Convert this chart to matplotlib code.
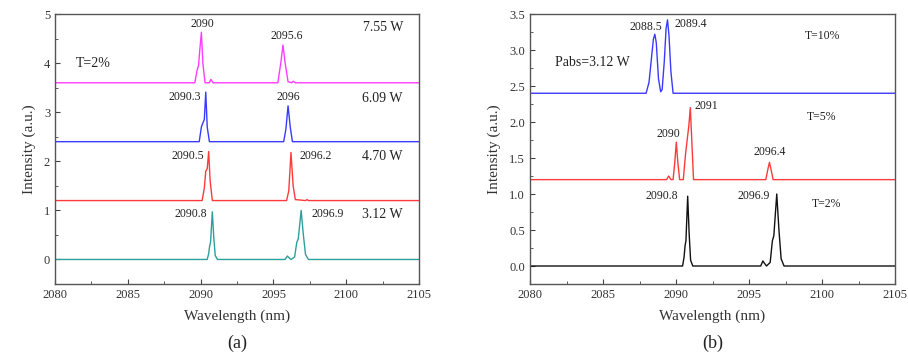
import numpy as np
import matplotlib.pyplot as plt
from matplotlib.ticker import MultipleLocator

plt.rcParams['font.family'] = ['Liberation Serif', 'DejaVu Serif']

# ---- panel (a): T=2%, different pump powers (knots) ----
p312_x = [2080, 2090.45, 2090.55, 2090.62, 2090.68, 2090.8, 2090.9, 2091.0, 2091.15,
          2095.8, 2095.95, 2096.05, 2096.2, 2096.45, 2096.6, 2096.7, 2096.9, 2097.05,
          2097.2, 2097.4, 2105]
p312_y = [0, 0, 0.12, 0.28, 0.35, 0.97, 0.45, 0.08, 0,
          0, 0.07, 0.04, 0, 0.05, 0.35, 0.42, 1.0, 0.5,
          0.1, 0, 0]

p470_x = [2080, 2090.1, 2090.25, 2090.35, 2090.45, 2090.55, 2090.65, 2090.8,
          2095.9, 2096.05, 2096.2, 2096.35, 2096.5, 2097.2, 2097.3, 2097.4, 2105]
p470_y = [1.2, 1.2, 1.45, 1.8, 1.85, 2.2, 1.6, 1.2,
          1.2, 1.4, 2.18, 1.5, 1.22, 1.2, 1.22, 1.2, 1.2]

p609_x = [2080, 2089.9, 2090.05, 2090.15, 2090.25, 2090.35, 2090.45, 2090.6,
          2095.7, 2095.85, 2096.0, 2096.15, 2096.3, 2105]
p609_y = [2.4, 2.4, 2.7, 2.78, 2.85, 3.41, 2.7, 2.4,
          2.4, 2.65, 3.13, 2.7, 2.4, 2.4]

p755_x = [2080, 2089.6, 2089.75, 2089.85, 2089.95, 2090.05, 2090.15, 2090.3,
          2090.6, 2090.7, 2090.85, 2095.3, 2095.5, 2095.65, 2095.8, 2096.0,
          2096.25, 2096.35, 2096.5, 2105]
p755_y = [3.6, 3.6, 3.85, 3.95, 4.3, 4.63, 4.0, 3.6,
          3.6, 3.67, 3.6, 3.6, 4.0, 4.37, 4.0, 3.62,
          3.6, 3.63, 3.6, 3.6]

# ---- panel (b): Pabs=3.12 W, different output couplers ----
t2_x = p312_x
t2_y = p312_y

t5_x = [2080, 2089.35, 2089.5, 2089.65, 2089.8, 2089.92, 2090.02, 2090.12, 2090.25,
        2090.5, 2090.65, 2090.78, 2090.88, 2090.98, 2091.08, 2091.2,
        2096.15, 2096.3, 2096.4, 2096.5, 2096.65, 2105]
t5_y = [1.2, 1.2, 1.25, 1.2, 1.2, 1.45, 1.72, 1.45, 1.2,
        1.2, 1.55, 1.78, 1.95, 2.2, 1.75, 1.2,
        1.2, 1.35, 1.44, 1.35, 1.2, 1.2]

t10_x = [2080, 2087.95, 2088.15, 2088.3, 2088.45, 2088.55, 2088.65, 2088.8, 2088.95,
         2089.05, 2089.2, 2089.32, 2089.42, 2089.52, 2089.65, 2089.8, 2105]
t10_y = [2.4, 2.4, 2.55, 2.85, 3.15, 3.22, 3.1, 2.6, 2.42,
         2.45, 2.85, 3.3, 3.42, 3.2, 2.7, 2.4, 2.4]

# annotations: (text, x, y)
labels_a = [("2090", 2090.1, 4.8), ("2095.6", 2095.9, 4.55), ("7.55 W", 2102.5, 4.73),
            ("T=2%", 2082.6, 4.0), ("2090.3", 2088.9, 3.32), ("2096", 2096.0, 3.32),
            ("6.09 W", 2102.5, 3.28), ("2090.5", 2089.1, 2.1), ("2096.2", 2097.9, 2.1),
            ("4.70 W", 2102.5, 2.1), ("2090.8", 2089.3, 0.92), ("2096.9", 2098.75, 0.92),
            ("3.12 W", 2102.5, 0.92)]
labels_b = [("2088.5", 2087.95, 3.32), ("2089.4", 2091.0, 3.36), ("T=10%", 2100.0, 3.19),
            ("Pabs=3.12 W", 2084.25, 2.83), ("2091", 2092.05, 2.22), ("T=5%", 2100.0, 2.07),
            ("2090", 2089.5, 1.83), ("2096.4", 2096.4, 1.58), ("2090.8", 2089.0, 0.97),
            ("2096.9", 2095.3, 0.97), ("T=2%", 2100.3, 0.86)]

fig = plt.figure(figsize=(9.08, 3.58), dpi=100)
ax1 = fig.add_axes([0.0606, 0.2067, 0.401, 0.754])
ax2 = fig.add_axes([0.5837, 0.2067, 0.402, 0.754])

ax1.plot(p312_x, p312_y, color='#2e9e9e', lw=1.0)
ax1.plot(p470_x, p470_y, color='#ff3a3a', lw=1.0)
ax1.plot(p609_x, p609_y, color='#3a3aff', lw=1.0)
ax1.plot(p755_x, p755_y, color='#ff3cff', lw=1.0)

ax2.plot(t2_x, t2_y, color='#111111', lw=1.0)
ax2.plot(t5_x, t5_y, color='#ff3a3a', lw=1.0)
ax2.plot(t10_x, t10_y, color='#3a3aff', lw=1.0)

ax1.set_ylim(-0.5, 5)
ax1.yaxis.set_major_locator(MultipleLocator(1))
ax1.yaxis.set_minor_locator(MultipleLocator(0.5))
ax2.set_ylim(-0.25, 3.5)
ax2.yaxis.set_major_locator(MultipleLocator(0.5))
ax2.yaxis.set_minor_locator(MultipleLocator(0.25))
ax2.yaxis.set_major_formatter(plt.FormatStrFormatter('%.1f'))

for ax, labs, tag, bigset in [(ax1, labels_a, "(a)", {"7.55 W", "6.09 W", "4.70 W", "3.12 W", "T=2%"}),
                              (ax2, labels_b, "(b)", {"Pabs=3.12 W"})]:
    ax.set_xlim(2080, 2105)
    ax.xaxis.set_major_locator(MultipleLocator(5))
    ax.xaxis.set_minor_locator(MultipleLocator(2.5))
    ax.tick_params(which='both', direction='in', colors='#444444', labelsize=9,
                   labelcolor='#333333')
    ax.tick_params(which='major', length=3.5)
    ax.tick_params(which='minor', length=2)
    for s in ax.spines.values():
        s.set_color('#555555')
        s.set_linewidth(1.0)
    ax.set_xlabel("Wavelength (nm)", fontsize=11, color='#333333', labelpad=6)
    ax.set_ylabel("Intensity (a.u.)", fontsize=11, color='#333333', labelpad=6)
    for t, x, y in labs:
        ax.text(x, y, t, ha='center', va='center', color='#222222',
                fontsize=10 if t in bigset else 8.5)
    ax.text(0.5, -0.22, tag, transform=ax.transAxes, ha='center', va='center',
            fontsize=13, color='#222222')

fig.savefig("out.png", dpi=100)
